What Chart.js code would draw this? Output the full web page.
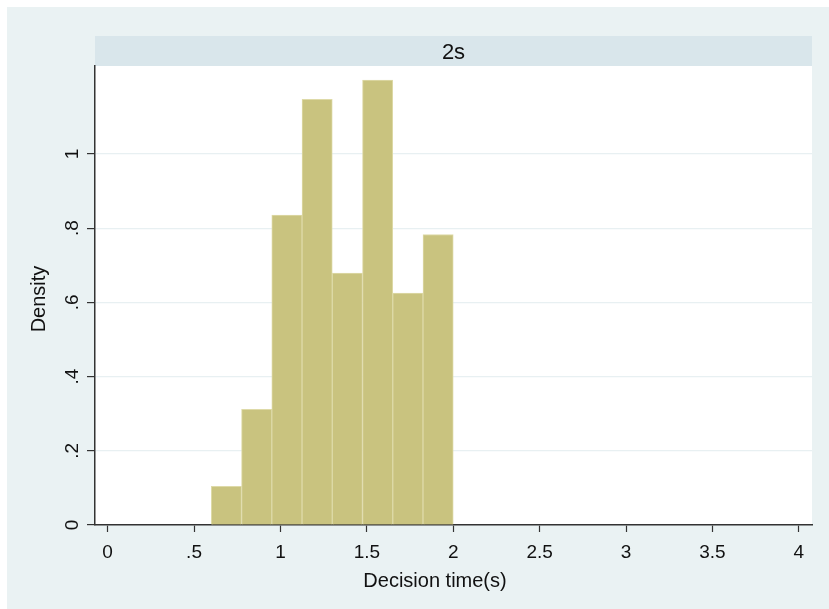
<!DOCTYPE html>
<html>
<head>
<meta charset="utf-8">
<script src="https://cdn.jsdelivr.net/npm/chart.js@4.4.1/dist/chart.umd.min.js"></script>
<style>
    body { margin: 0; background: #ffffff; }
    #wrap { width: 829px; height: 609px; }
</style>
</head>
<body>
<div id="wrap"><canvas id="histChart" width="829" height="609"></canvas></div>
<script>
// histogram bins (start of each bin) and density values
const binStart = [0.6, 0.775, 0.95, 1.125, 1.3, 1.475, 1.65, 1.825];
const binWidth = 0.175;
const density = [0.104, 0.312, 0.835, 1.147, 0.679, 1.199, 0.625, 0.783];

const xTicks = [0, 0.5, 1, 1.5, 2, 2.5, 3, 3.5, 4];
const xTickLabels = ["0", ".5", "1", "1.5", "2", "2.5", "3", "3.5", "4"];
const yTicks = [0, 0.2, 0.4, 0.6, 0.8, 1];
const yTickLabels = ["0", ".2", ".4", ".6", ".8", "1"];

const panelTitle = "2s";
const xTitle = "Decision time(s)";
const yTitle = "Density";

const fontFamily = "'Liberation Sans', Arial, sans-serif";

// Stata-like background, header strip and rotated labels
const stataLook = {
    id: "stataLook",
    beforeDraw(chart) {
        const ctx = chart.ctx;
        const area = chart.chartArea;
        ctx.save();
        ctx.fillStyle = "#ffffff";
        ctx.fillRect(0, 0, chart.width, chart.height);
        ctx.fillStyle = "#eaf2f3";
        ctx.fillRect(7, 7, chart.width - 7, chart.height - 7);
        ctx.fillStyle = "#ffffff";
        ctx.fillRect(area.left, area.top, area.right - area.left, area.bottom - area.top);

        // panel header
        ctx.fillStyle = "#d9e6eb";
        ctx.fillRect(area.left, 36, area.right - area.left, area.top - 36);
        ctx.fillStyle = "#111111";
        ctx.font = "22px " + fontFamily;
        ctx.textAlign = "center";
        ctx.textBaseline = "alphabetic";
        ctx.fillText(panelTitle, (area.left + area.right) / 2, 59);
        ctx.restore();
    },
    afterDraw(chart) {
        const ctx = chart.ctx;
        const yScale = chart.scales.y;
        ctx.save();
        ctx.fillStyle = "#111111";
        ctx.textAlign = "center";
        ctx.textBaseline = "alphabetic";

        // y tick labels, rotated like Stata
        ctx.font = "19px " + fontFamily;
        yTicks.forEach((v, i) => {
            const py = yScale.getPixelForValue(v);
            ctx.save();
            ctx.translate(78, py);
            ctx.rotate(-Math.PI / 2);
            ctx.fillText(yTickLabels[i], 0, 0);
            ctx.restore();
        });

        // y title
        ctx.font = "20px " + fontFamily;
        ctx.save();
        ctx.translate(45, 299);
        ctx.rotate(-Math.PI / 2);
        ctx.fillText(yTitle, 0, 0);
        ctx.restore();

        // x title
        ctx.font = "20px " + fontFamily;
        ctx.fillText(xTitle, 435, 587);
        ctx.restore();
    }
};

const ctx = document.getElementById("histChart").getContext("2d");
new Chart(ctx, {
    type: "bar",
    data: {
        datasets: [{
            label: yTitle,
            data: binStart.map((s, i) => ({ x: s + binWidth / 2, y: density[i] })),
            backgroundColor: "#c9c37f",
            borderColor: "#dedaa8",
            borderWidth: 1,
            barPercentage: 1,
            categoryPercentage: 1
        }]
    },
    options: {
        responsive: false,
        animation: false,
        devicePixelRatio: 1,
        layout: {
            padding: { top: 66, right: 17, left: 0, bottom: 0 }
        },
        plugins: {
            legend: { display: false },
            tooltip: { enabled: false }
        },
        scales: {
            x: {
                type: "linear",
                offset: false,
                min: -0.073,
                max: 4.076,
                afterBuildTicks: scale => {
                    scale.ticks = xTicks.map(v => ({ value: v }));
                },
                afterFit: scale => {
                    scale.height = 84;
                },
                ticks: {
                    autoSkip: false,
                    maxRotation: 0,
                    minRotation: 0,
                    padding: 9,
                    color: "#111111",
                    font: { family: fontFamily, size: 19 },
                    callback: value => xTickLabels[xTicks.indexOf(value)]
                },
                grid: {
                    offset: false,
                    drawOnChartArea: false,
                    tickLength: 7,
                    tickColor: "#333333",
                    tickWidth: 1.2
                },
                border: { color: "#333333", width: 1.5 }
            },
            y: {
                min: 0,
                max: 1.237,
                afterBuildTicks: scale => {
                    scale.ticks = yTicks.map(v => ({ value: v }));
                },
                afterFit: scale => {
                    scale.width = 95;
                },
                ticks: {
                    callback: () => ""
                },
                grid: {
                    color: "#e8f0f2",
                    lineWidth: 1.2,
                    tickLength: 8,
                    tickColor: "#333333",
                    tickWidth: 1.2
                },
                border: { color: "#333333", width: 1.5 }
            }
        }
    },
    plugins: [stataLook]
});
</script>
</body>
</html>
